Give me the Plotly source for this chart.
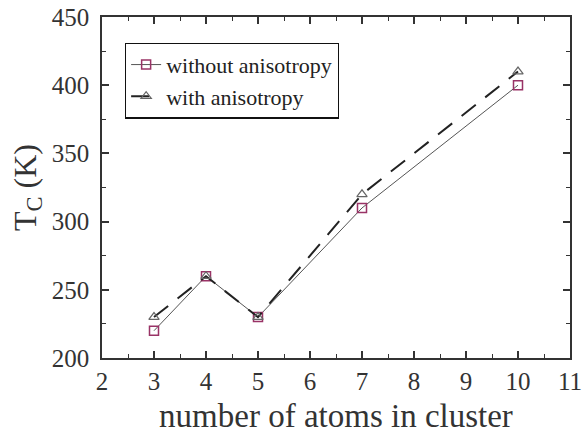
import plotly.graph_objects as go

atoms = [3, 4, 5, 7, 10]
tc_without = [220, 260, 230, 310, 400]
tc_with = [230, 260, 230, 320, 410]

SERIF = "Liberation Serif, Times New Roman, serif"

fig = go.Figure()
fig.add_trace(go.Scatter(
    x=atoms, y=tc_without, name="without anisotropy", mode="lines+markers",
    line=dict(color="#555555", width=1),
    marker=dict(symbol="square-open", size=9, color="#993366", line=dict(width=1.5, color="#993366")),
))
fig.add_trace(go.Scatter(
    x=atoms, y=tc_with, name="with anisotropy", mode="lines+markers",
    line=dict(color="#222222", width=2, dash="18px,12px"),
    marker=dict(symbol="triangle-up-open", size=9, color="#666666", line=dict(width=1.2, color="#666666")),
))

axis_common = dict(
    showgrid=False, zeroline=False, showline=True, linecolor="#333333", linewidth=1.5,
    mirror="ticks", ticks="inside", ticklen=7, tickwidth=1.5, tickcolor="#333333",
    tickfont=dict(family=SERIF, size=25, color="#333333"), automargin=False,
)

fig.update_layout(
    width=585, height=436,
    margin=dict(l=102, r=15, t=17, b=78),
    plot_bgcolor="white", paper_bgcolor="white",
    font=dict(family=SERIF, color="#333333"),
    xaxis=dict(range=[2, 11], dtick=1, tick0=2,
               minor=dict(ticks="inside", ticklen=4, dtick=0.5, tickcolor="#333333", tickwidth=1),
               title=dict(text="number of atoms in cluster", font=dict(family=SERIF, size=33), standoff=10),
               **axis_common),
    yaxis=dict(range=[200, 450], dtick=50, tick0=200, ticklabelstandoff=6,
               minor=dict(ticks="inside", ticklen=4, dtick=25, tickcolor="#333333", tickwidth=1),
               title=dict(text="T<sub>C</sub> (K)", font=dict(family=SERIF, size=32), standoff=6),
               **axis_common),
    showlegend=True,
    legend=dict(x=0.049, y=0.925, xanchor="left", yanchor="top",
                bordercolor="#111111", borderwidth=1.2, bgcolor="white",
                font=dict(family=SERIF, size=22, color="#222222"), tracegroupgap=0,
                itemwidth=30),
)

fig.write_html("out.html", config={"displayModeBar": False},
               post_script="document.body.style.margin='0';document.body.style.overflow='hidden';")
